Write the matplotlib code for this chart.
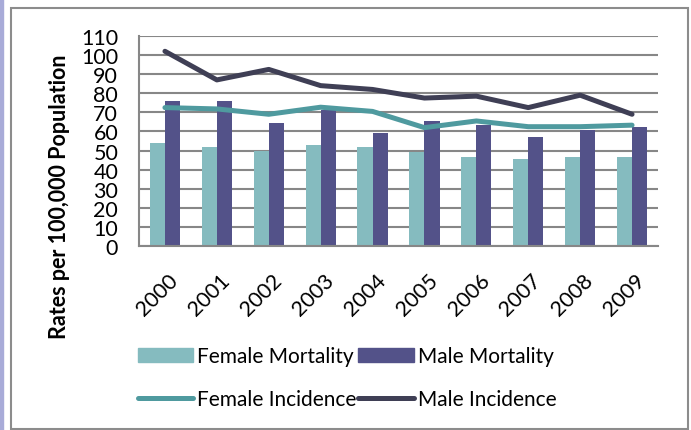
import matplotlib
matplotlib.use("Agg")
import matplotlib.pyplot as plt
import matplotlib.transforms as mtransforms
from matplotlib.patches import Rectangle, Patch
from matplotlib.lines import Line2D
import numpy as np

plt.rcParams['font.family'] = ['Lato', 'DejaVu Sans']

years = ["2000", "2001", "2002", "2003", "2004", "2005", "2006", "2007", "2008", "2009"]
female_mortality = [54, 52, 50, 53, 52, 49, 46.5, 45.5, 46.5, 46.5]
male_mortality = [76, 76, 64.5, 71.5, 59, 65.5, 63.5, 57, 61, 62.5]
female_incidence = [72.5, 71.8, 69, 72.7, 70.5, 62, 65.5, 62.5, 62.5, 63.3]
male_incidence = [102, 87, 92.5, 84, 82, 77.5, 78.5, 72.5, 79, 69]

c_fm = "#85bbbf"
c_mm = "#535289"
c_fi = "#4f9a9f"
c_mi = "#3f3f55"
grid_c = "#878787"

fig = plt.figure(figsize=(6.91, 4.31), dpi=100)
ax = fig.add_axes([139/691, 1 - 247/431, (658-139)/691, (247-37)/431])

x = np.arange(len(years))
w = 0.29
ax.bar(x - w/2, female_mortality, width=w, color=c_fm, zorder=2)
ax.bar(x + w/2, male_mortality, width=w, color=c_mm, zorder=2)
ax.plot(x, female_incidence, color=c_fi, linewidth=3.6, zorder=3, solid_capstyle='round', solid_joinstyle='round')
ax.plot(x, male_incidence, color=c_mi, linewidth=3.6, zorder=4, solid_capstyle='round', solid_joinstyle='round')

ax.set_xlim(-0.5, 9.5)
ax.set_ylim(0, 110)
ax.set_yticks(range(0, 111, 10))
ax.yaxis.grid(True, color=grid_c, linewidth=1.5, zorder=0)
ax.set_axisbelow(True)
for s in ["top", "right"]:
    ax.spines[s].set_visible(False)
for s in ["left", "bottom"]:
    ax.spines[s].set_color(grid_c)
    ax.spines[s].set_linewidth(1.5)
ax.tick_params(axis='y', length=0, pad=15, labelsize=15.5)
ax.tick_params(axis='x', length=0, pad=17, labelsize=15.5)
ax.set_xticks(x)
ax.set_xticklabels(years, rotation=45, ha='right', va='top', rotation_mode='anchor')
offset = mtransforms.ScaledTranslation(3/100, 0, fig.dpi_scale_trans)
for lab in ax.get_xticklabels():
    lab.set_transform(lab.get_transform() + offset)

fig.text(60/691, 1 - 197/431, "Rates per 100,000 Population", rotation=90,
         ha='center', va='center', fontsize=15.5, fontweight='bold')

handles = [Patch(color=c_fm), Line2D([], [], color=c_fi, linewidth=3.6, solid_capstyle='round'),
           Patch(color=c_mm), Line2D([], [], color=c_mi, linewidth=3.6, solid_capstyle='round')]
labels = ["Female Mortality", "Female Incidence", "Male Mortality", "Male Incidence"]
fig.legend(handles, labels, ncol=2, loc='center', bbox_to_anchor=(347/691, 1 - 378.5/431),
           frameon=False, fontsize=15, handlelength=2.65, handleheight=0.67, handletextpad=0.2,
           columnspacing=0.1, labelspacing=1.1, borderpad=0)

# outer frame
fig.patches.append(Rectangle((0, 0), 3/691, 1, transform=fig.transFigure,
                             color="#a8abd8", zorder=0))
fig.patches.append(Rectangle((10.5/691, 1.5/431), (687.5-10.5)/691, (422-1.5)/431,
                             transform=fig.transFigure, fill=False,
                             edgecolor="#8c8c8c", linewidth=1.5))

fig.savefig("out.png", dpi=100)
